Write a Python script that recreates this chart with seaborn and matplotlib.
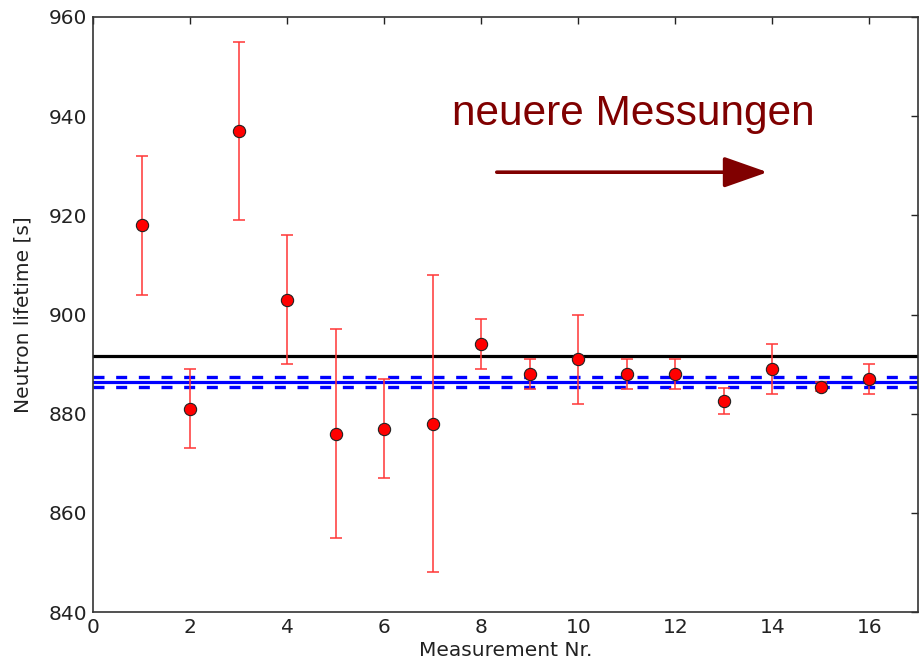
import numpy as np
import pandas as pd
import matplotlib
matplotlib.use("Agg")
import matplotlib.pyplot as plt
import seaborn as sns

# Data
measurement = [1, 2, 3, 4, 5, 6, 7, 8, 9, 10, 11, 12, 13, 14, 15, 16]
lifetime = [918, 881, 937, 903, 876, 877, 878, 894, 888, 891, 888, 888, 882.5, 889, 885.4, 887]
error = [14, 8, 18, 13, 21, 10, 30, 5, 3, 9, 3, 3, 2.6, 5, 0.9, 3]
simple_mean = 891.7
weighted_mean = 886.4
weighted_err = 1.0
annotation = "neuere Messungen"

df = pd.DataFrame({"Measurement Nr.": measurement, "Neutron lifetime [s]": lifetime, "err": error})

sns.set_style("white")
plt.rcParams['font.family'] = ['DejaVu Sans']

fig = plt.figure(figsize=(9.2, 6.62), dpi=100)
ax = fig.add_axes([93/920, 50/662, (918-93)/920, (612-17)/662])

ax.errorbar(df["Measurement Nr."], df["Neutron lifetime [s]"], yerr=df["err"],
            fmt="none", ecolor="#ff3838", elinewidth=1.4, capsize=4.3, capthick=1.4,
            alpha=0.8, zorder=3)
sns.scatterplot(data=df, x="Measurement Nr.", y="Neutron lifetime [s]", ax=ax,
                color="red", edgecolor="#222222", linewidth=0.8, s=78, zorder=4)

ax.axhline(simple_mean, color="black", lw=2.3, zorder=2)
ax.axhline(weighted_mean, color="blue", lw=2.3, zorder=2)
for v in (weighted_mean - weighted_err, weighted_mean + weighted_err):
    ax.axhline(v, color="blue", lw=2.4, linestyle=(0, (3.3, 3.5)), zorder=2)

ax.set_xlim(0, 17)
ax.set_ylim(840, 960)
ax.set_xticks(np.arange(0, 17, 2))
ax.set_yticks(np.arange(840, 961, 20))
ax.tick_params(direction="in", length=5, width=1, top=True, right=True,
               labelsize=14.5, colors="#222222", pad=4)
for s in ax.spines.values():
    s.set_visible(True)
    s.set_color("#333333")
    s.set_linewidth(1.2)
ax.set_xlabel("Measurement Nr.", fontsize=14.5, color="#222222", labelpad=3)
ax.set_ylabel("Neutron lifetime [s]", fontsize=14.5, color="#222222", labelpad=12)

ax.text(7.39, 938.2, annotation, fontsize=30.5, color="#800000",
        family=["Liberation Sans", "DejaVu Sans"], ha="left", va="baseline")
ax.annotate("", xy=(13.9, 928.7), xytext=(8.32, 928.7),
            arrowprops=dict(arrowstyle="-|>,head_length=2.7,head_width=0.95",
                            color="#800000", lw=2.6, shrinkA=0, shrinkB=0))

fig.savefig("out.png", dpi=100)
